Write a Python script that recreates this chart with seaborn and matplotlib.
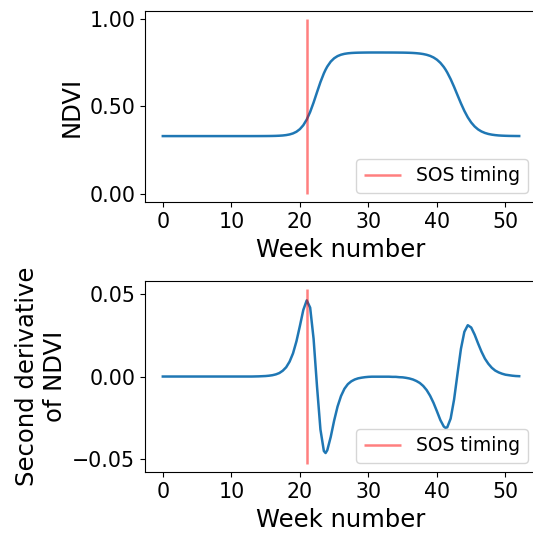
import matplotlib
matplotlib.use("Agg")
import matplotlib.pyplot as plt
import matplotlib.ticker as mticker
import pandas as pd
import seaborn as sns

# Sampled weeks (denser where the curve bends)
weeks = [0, 1, 2, 3, 4, 5, 6, 7, 8, 9, 10, 11, 12, 13, 14,
         14.5, 15, 15.5, 16, 16.5, 17, 17.5, 18, 18.5, 19, 19.5, 20, 20.5,
         21, 21.5, 22, 22.5, 23, 23.5, 23.75,
         24, 24.5, 25, 25.5, 26, 26.5, 27, 27.5, 28, 28.5, 29, 29.5, 30,
         30.5, 31, 31.5, 32, 32.5, 33, 33.5, 34, 34.5, 35,
         35.5, 36, 36.5, 37, 37.5, 38, 38.5, 39, 39.5, 40, 40.5, 41, 41.25,
         41.5, 42, 42.5, 43, 43.5, 44, 44.5, 45, 45.5, 46, 46.5, 47, 47.5,
         48, 48.5, 49, 49.5, 50, 50.5, 51, 51.5, 52]

ndvi = [0.3300, 0.3300, 0.3300, 0.3300, 0.3300, 0.3300, 0.3300, 0.3300,
        0.3300, 0.3300, 0.3300, 0.3300, 0.3300, 0.3300, 0.3301,
        0.3302, 0.3303, 0.3305, 0.3308, 0.3313, 0.3322, 0.3335, 0.3358,
        0.3395, 0.3455, 0.3550, 0.3699, 0.3924, 0.4249, 0.4688, 0.5226,
        0.5820, 0.6399, 0.6901, 0.7112,
        0.7294, 0.7576, 0.7768, 0.7893, 0.7972, 0.8022, 0.8052, 0.8071,
        0.8082, 0.8089, 0.8093, 0.8096, 0.8098,
        0.8099, 0.8099, 0.8099, 0.8099, 0.8098, 0.8098, 0.8097, 0.8096,
        0.8094, 0.8092,
        0.8088, 0.8082, 0.8073, 0.8059, 0.8039, 0.8010, 0.7967, 0.7905,
        0.7814, 0.7686, 0.7507, 0.7267, 0.7120,
        0.6954, 0.6570, 0.6127, 0.5652, 0.5180, 0.4747, 0.4377, 0.4080,
        0.3852, 0.3684, 0.3565, 0.3481, 0.3423, 0.3383, 0.3356, 0.3337,
        0.3325, 0.3317, 0.3311, 0.3308, 0.3305, 0.3303]

second_deriv = [0.0, 0.0, 0.0, 0.0, 0.0, 0.0, 0.0, 0.0, 0.0, 0.0, 0.0, 0.0,
                0.0, 0.0, 0.0001,
                0.0002, 0.0003, 0.0005, 0.0008, 0.0013, 0.0021, 0.0035,
                0.0056, 0.0090, 0.0140, 0.0213, 0.0305, 0.0402, 0.0460,
                0.0416, 0.0228, -0.0060, -0.0320, -0.0450, -0.0462,
                -0.0445, -0.0365, -0.0266, -0.0181, -0.0118, -0.0074,
                -0.0046, -0.0029, -0.0018, -0.0011, -0.0007, -0.0004,
                -0.0002,
                -0.0001, -0.0001, -0.0001, -0.0001, -0.0001, -0.0001,
                -0.0002, -0.0002, -0.0004, -0.0005,
                -0.0008, -0.0012, -0.0018, -0.0027, -0.0039, -0.0057,
                -0.0082, -0.0116, -0.0159, -0.0210, -0.0263, -0.0302,
                -0.0310,
                -0.0307, -0.0254, -0.0139, 0.0016, 0.0167, 0.0270, 0.0310,
                0.0296, 0.0253, 0.0200, 0.0150, 0.0108, 0.0077, 0.0053,
                0.0036, 0.0025, 0.0017, 0.0011, 0.0008, 0.0005, 0.0003,
                0.0002]

sos_week = 21.1
sos_span_ndvi = [0.0, 1.0]
sos_span_deriv = [-0.0526, 0.0526]

df = pd.DataFrame({"week": weeks, "ndvi": ndvi, "d2": second_deriv})

TICK = 14.8
LABEL = 17.5
LEG = 13.5


def minus_fmt(v, pos):
    return f"{v:.2f}".replace("-", "\u2212")


fig = plt.figure(figsize=(5.33, 5.34), dpi=100)
ax1 = fig.add_axes([145 / 533, 0.6212, 392 / 533, 0.3588])
ax2 = fig.add_axes([145 / 533, 0.1155, 392 / 533, 0.3588])

# NDVI curve
sns.lineplot(data=df, x="week", y="ndvi", ax=ax1, color="tab:blue", linewidth=1.8)
ax1.vlines(sos_week, sos_span_ndvi[0], sos_span_ndvi[1], colors="red",
           alpha=0.5, linewidth=1.8, label="SOS timing")
ax1.set_ylabel("NDVI", fontsize=LABEL)
ax1.set_yticks([0.0, 0.5, 1.0])

# second derivative
sns.lineplot(data=df, x="week", y="d2", ax=ax2, color="tab:blue", linewidth=1.8)
ax2.vlines(sos_week, sos_span_deriv[0], sos_span_deriv[1], colors="red",
           alpha=0.5, linewidth=1.8, label="SOS timing")
ax2.set_ylabel("Second derivative\nof NDVI", fontsize=LABEL)
ax2.set_yticks([-0.05, 0.0, 0.05])

for ax in (ax1, ax2):
    ax.set_xlabel("Week number", fontsize=LABEL)
    ax.set_xticks([0, 10, 20, 30, 40, 50])
    ax.yaxis.set_major_formatter(mticker.FuncFormatter(minus_fmt))
    ax.tick_params(labelsize=TICK)
    ax.legend(loc="lower right", fontsize=LEG)

fig.savefig("out.png", dpi=100)
